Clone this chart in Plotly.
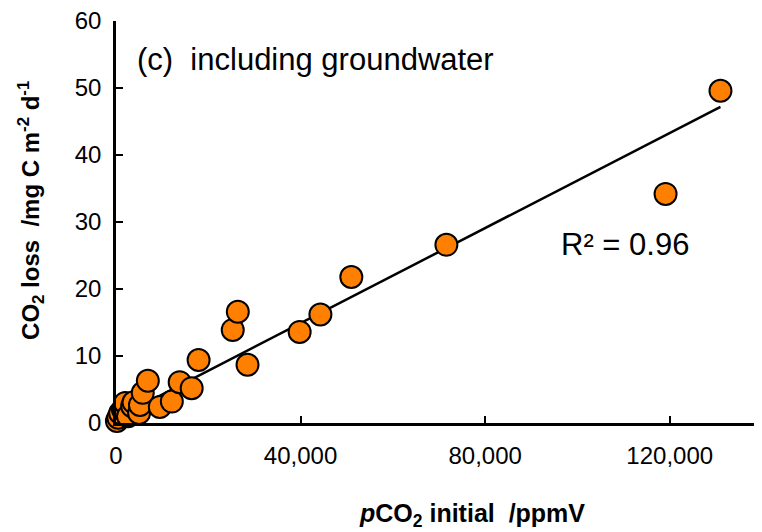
import plotly.graph_objects as go

# pCO2 initial (ppmV) and CO2 loss (mg C m-2 d-1)
pco2_initial = [200, 500, 900, 1500, 2000, 2600, 3500, 3800, 5000, 5200, 5800, 6900,
                9500, 12100, 13800, 16400, 17900, 25300, 26400, 28500, 39800, 44300,
                51000, 71600, 119100, 131000]
co2_loss = [0.3, 0.8, 1.5, 2.0, 3.0, 1.0, 2.5, 3.1, 1.5, 2.7, 4.5, 6.3,
            2.4, 3.2, 6.1, 5.2, 9.4, 13.9, 16.6, 8.7, 13.6, 16.2,
            21.8, 26.6, 34.2, 49.6]

# linear trendline
trend_slope = 0.000355
trend_intercept = 0.7
r_squared = 0.96

x_ticks = [0, 40000, 80000, 120000]
y_ticks = [0, 10, 20, 30, 40, 50, 60]

FONT = "Liberation Sans, Arial, sans-serif"

x_line = [min(pco2_initial), max(pco2_initial)]
y_line = [trend_slope * v + trend_intercept for v in x_line]

fig = go.Figure()
fig.add_trace(go.Scatter(x=x_line, y=y_line, mode="lines",
                         line=dict(color="black", width=2.5), hoverinfo="skip",
                         showlegend=False, cliponaxis=False))
fig.add_trace(go.Scatter(x=pco2_initial, y=co2_loss, mode="markers",
                         marker=dict(size=22, color="#FF8000",
                                     line=dict(color="black", width=2)),
                         showlegend=False, cliponaxis=False))

fig.update_layout(
    width=754, height=524,
    margin=dict(l=108, r=0, t=13, b=109, autoexpand=False),
    paper_bgcolor="white", plot_bgcolor="white",
    font=dict(family=FONT, size=24, color="black"),
    xaxis=dict(range=[0, 140000], tickvals=x_ticks, tickformat=",d",
               ticks="inside", ticklen=7, tickwidth=1.5, tickcolor="black",
               showline=True, linecolor="black", linewidth=2.5,
               showgrid=False, zeroline=False, automargin=False,
               ticklabelstandoff=9, ticklabeloverflow="allow",
               tickfont=dict(size=24, family=FONT)),
    yaxis=dict(range=[0, 60.01], tickvals=y_ticks,
               ticks="inside", ticklen=7, tickwidth=1.5, tickcolor="black",
               showline=True, linecolor="black", linewidth=2.5,
               showgrid=False, zeroline=False, automargin=False,
               ticklabelstandoff=7, ticklabeloverflow="allow",
               tickfont=dict(size=24, family=FONT)),
    annotations=[
        dict(text="<b><i>p</i>CO<sub>2</sub> initial&nbsp; /ppmV</b>",
             xref="paper", yref="paper", x=0.551, y=-0.229,
             xanchor="center", yanchor="middle", showarrow=False,
             font=dict(size=25, family=FONT)),
        dict(text="<b>CO<sub>2</sub> loss&nbsp; /mg C m<sup>-2</sup> d<sup>-1</sup></b>",
             xref="paper", yref="paper", x=-0.1316, y=0.53, textangle=-90,
             xanchor="center", yanchor="middle", showarrow=False,
             font=dict(size=24, family=FONT)),
        dict(text="(c)&nbsp; including groundwater", xref="paper", yref="paper",
             x=0.0294, y=0.903, xanchor="left", yanchor="middle", showarrow=False,
             font=dict(size=31, family=FONT)),
        dict(text=f"R² = {r_squared:.2f}", xref="x", yref="y",
             x=96000, y=26.6, xanchor="left", yanchor="middle", showarrow=False,
             font=dict(size=31, family=FONT)),
    ],
)

fig.write_html("out.html")
